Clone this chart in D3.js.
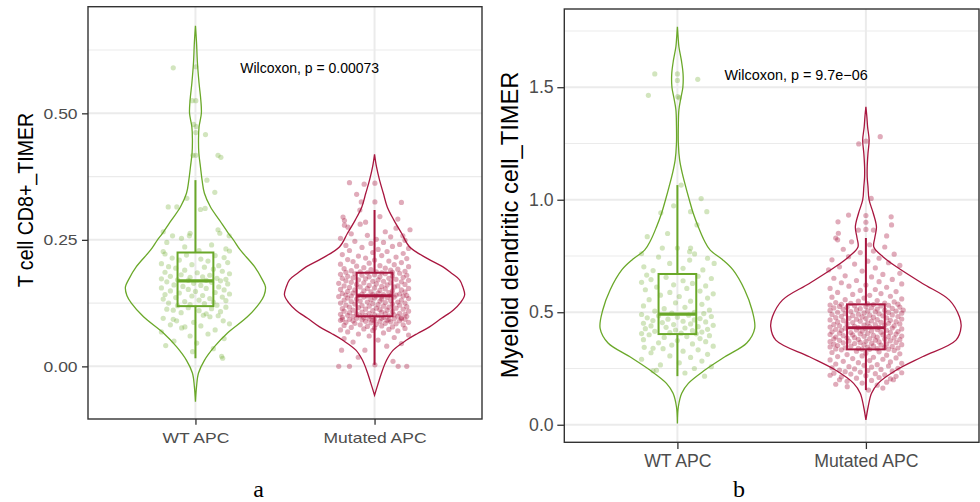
<!DOCTYPE html>
<html>
<head>
<meta charset="utf-8">
<script src="https://cdn.jsdelivr.net/npm/d3@7"></script>
<style>
  body { margin: 0; background: #fff; }
  svg { display: block; }
</style>
</head>
<body>
<svg id="fig" width="980" height="502"></svg>
<script>
// ---- shared ----
const groups = ["WT APC", "Mutated APC"];
const groupColors = ["#6aa829", "#a8163f"];

// ---- panel a: T cell CD8+ (TIMER) ----
const cd8Title = "T cell CD8+_TIMER";
const cd8Ticks = [0, 0.25, 0.5];
const cd8TickLabels = ["0.00", "0.25", "0.50"];
const cd8Minor = [0.125, 0.375, 0.625];
const cd8Test = "Wilcoxon, p = 0.00073";
// box stats: [lower whisker, Q1, median, Q3, upper whisker]
const cd8BoxWT  = [0.016, 0.119, 0.169, 0.225, 0.368];
const cd8BoxMut = [0.003, 0.099, 0.1395, 0.185, 0.309];
// violin outline: [value, half width in category steps]
const cd8ViolinWT = [[0.673,0],[0.64,0.006],[0.60,0.011],[0.56,0.02],[0.526,0.03],[0.50,0.033],[0.473,0.02],[0.45,0.017],[0.421,0.019],[0.394,0.028],[0.368,0.037],[0.342,0.05],[0.315,0.084],[0.289,0.134],[0.263,0.184],[0.25,0.212],[0.23,0.25],[0.197,0.33],[0.171,0.374],[0.157,0.391],[0.14,0.383],[0.125,0.358],[0.098,0.29],[0.066,0.179],[0.039,0.106],[0.012,0.05],[-0.013,0.017],[-0.04,0.006],[-0.07,0]];
const cd8ViolinMut = [[0.419,0],[0.394,0.011],[0.368,0.028],[0.342,0.049],[0.315,0.071],[0.289,0.108],[0.263,0.151],[0.236,0.196],[0.213,0.296],[0.197,0.38],[0.184,0.43],[0.171,0.475],[0.156,0.494],[0.141,0.503],[0.126,0.48],[0.111,0.439],[0.095,0.374],[0.078,0.307],[0.065,0.24],[0.052,0.179],[0.032,0.104],[0.012,0.067],[-0.013,0.039],[-0.033,0.021],[-0.057,0]];
// samples: [horizontal jitter in category steps, value]
const cd8PointsWT = [
[-0.124,0.590],[0.002,0.592],[-0.018,0.525],[0.002,0.525],[-0.010,0.478],[0.004,0.474],[0.002,0.462],[0.056,0.458],[-0.014,0.417],[0.002,0.417],
[0.126,0.417],[0.142,0.413],[0.064,0.368],[0.108,0.344],[-0.048,0.332],[-0.152,0.315],[-0.104,0.315],[0.028,0.310],[0.054,0.312],[-0.180,0.266],
[-0.030,0.263],[0.126,0.270],[0.136,0.263],[0.188,0.258],[-0.128,0.258],[-0.078,0.253],[-0.034,0.258],[-0.160,0.245],[0.090,0.240],[-0.060,0.236],
[0.170,0.232],[0.020,0.229],[-0.180,0.227],[0.190,0.228],
[-0.170,0.222],[-0.050,0.220],[0.110,0.219],[0.160,0.215],[-0.130,0.214],[0.030,0.212],[-0.090,0.210],[0.070,0.208],[0.180,0.205],[-0.190,0.203],
[-0.020,0.201],[0.130,0.199],[-0.150,0.197],[0.050,0.196],[-0.110,0.194],[0.100,0.192],[-0.060,0.190],[0.150,0.188],[-0.170,0.186],[0.010,0.185],
[0.190,0.183],[-0.080,0.181],[0.080,0.180],[-0.140,0.178],[0.040,0.177],[-0.030,0.176],[0.120,0.174],[-0.190,0.173],[0.170,0.172],[-0.100,0.171],
[0.060,0.170],[-0.040,0.170],[0.140,0.169],
[-0.160,0.167],[0.090,0.166],[-0.010,0.164],[0.180,0.163],[-0.120,0.161],[0.030,0.160],[-0.070,0.158],[0.130,0.157],[-0.190,0.155],[0.060,0.154],
[-0.040,0.152],[0.160,0.151],[-0.140,0.149],[0.000,0.148],[0.110,0.146],[-0.090,0.145],[0.190,0.143],[-0.170,0.142],[0.040,0.140],[-0.020,0.139],
[0.150,0.137],[-0.110,0.136],[0.080,0.134],[-0.180,0.133],[0.020,0.131],[0.170,0.130],[-0.060,0.128],[0.100,0.127],[-0.150,0.125],[0.050,0.124],
[-0.030,0.122],[0.120,0.121],[-0.100,0.120],
[-0.124,0.111],[0.170,0.117],[-0.040,0.116],[0.090,0.114],[-0.160,0.113],[0.020,0.110],[0.140,0.108],[-0.080,0.106],[0.060,0.104],[0.044,0.101],
[0.127,0.100],[0.081,0.098],[-0.180,0.095],[-0.124,0.093],[-0.105,0.090],[0.155,0.090],[-0.010,0.087],[0.190,0.084],[-0.140,0.082],[0.030,0.080],
[-0.059,0.078],[-0.077,0.076],[0.110,0.072],[-0.190,0.068],[0.070,0.064],[-0.030,0.060],[0.160,0.055],[-0.120,0.050],[0.007,0.046],[-0.166,0.041],
[0.100,0.035],[-0.016,0.029],[0.146,0.020],[0.152,0.016]
];
const cd8PointsMut = [
[-0.140,0.363],[-0.058,0.360],[0.002,0.362],[-0.100,0.340],[-0.074,0.325],[0.002,0.325],[0.150,0.324],[-0.082,0.309],[-0.176,0.295],[-0.168,0.288],
[-0.168,0.279],[-0.148,0.275],[0.130,0.291],[0.030,0.296],[0.120,0.273],[0.198,0.270],[0.158,0.258],[-0.050,0.285],[-0.080,0.281],[0.060,0.266],
[-0.130,0.262],[-0.040,0.259],[0.090,0.256],[-0.190,0.253],[0.010,0.251],[0.170,0.249],[-0.110,0.247],[0.050,0.245],[-0.020,0.243],[0.140,0.241],
[-0.160,0.239],[0.100,0.237],[-0.070,0.235],[0.190,0.233],[0.020,0.231],[-0.140,0.229],[0.070,0.227],[-0.010,0.225],[0.160,0.223],[-0.180,0.221],
[0.040,0.219],[-0.090,0.218],[0.120,0.216],[-0.050,0.214],[0.180,0.213],[-0.150,0.211],[0.000,0.210],[0.080,0.208],[-0.120,0.207],[0.150,0.205],
[-0.030,0.204],[-0.190,0.202],[0.110,0.201],[0.030,0.199],[-0.100,0.198],[0.190,0.197],[-0.060,0.195],[0.060,0.194],[-0.170,0.193],[0.130,0.192],
[-0.020,0.191],[0.090,0.190],[-0.130,0.189],[0.170,0.188],[0.010,0.187],[-0.080,0.187],[0.100,0.186],[-0.160,0.186],[0.040,0.185],[-0.040,0.185],
[0.140,0.184],[-0.110,0.183],[0.060,0.183],[-0.190,0.182],[0.000,0.181],[0.180,0.180],[-0.070,0.180],[0.100,0.179],[-0.150,0.178],[0.030,0.177],
[-0.030,0.177],[0.160,0.176],[-0.120,0.175],[0.080,0.174],[-0.180,0.174],[-0.050,0.173],[0.120,0.172],[0.020,0.171],[-0.090,0.171],[0.190,0.170],
[-0.160,0.169],[0.050,0.168],[-0.010,0.168],[0.150,0.167],[-0.130,0.166],[0.090,0.165],[-0.060,0.165],[-0.200,0.164],[0.010,0.163],[0.170,0.162],
[-0.100,0.162],[0.070,0.161],[-0.030,0.160],[0.130,0.159],[-0.170,0.159],[0.040,0.158],[-0.080,0.157],[0.110,0.157],[-0.140,0.156],[0.000,0.155],
[0.190,0.154],[-0.040,0.154],[0.060,0.153],[-0.190,0.152],[0.150,0.151],[-0.110,0.151],[0.030,0.150],[-0.060,0.149],[0.100,0.149],[-0.150,0.148],
[0.170,0.147],[-0.020,0.147],[0.080,0.146],[-0.120,0.145],[0.020,0.145],[-0.180,0.144],[0.140,0.143],[-0.070,0.143],[0.050,0.142],[-0.010,0.142],
[0.120,0.141],[-0.160,0.141],[0.090,0.140],[-0.090,0.140],[0.180,0.140],[-0.040,0.139],[0.010,0.139],[-0.130,0.139],[0.160,0.139],[0.040,0.138],
[-0.200,0.138],[0.110,0.137],[-0.060,0.137],[0.070,0.136],[-0.150,0.135],[0.000,0.135],[0.190,0.134],[-0.100,0.133],[0.040,0.133],[-0.020,0.132],
[0.150,0.131],[-0.170,0.131],[0.090,0.130],[-0.080,0.129],[0.030,0.129],[-0.130,0.128],[0.130,0.127],[-0.040,0.127],[0.060,0.126],[-0.190,0.125],
[0.170,0.125],[-0.010,0.124],[-0.110,0.123],[0.100,0.123],[0.020,0.122],[-0.160,0.121],[0.140,0.121],[-0.070,0.120],[0.050,0.119],[-0.030,0.119],
[0.180,0.118],[-0.140,0.117],[0.080,0.117],[-0.090,0.116],[0.010,0.115],[0.120,0.115],[-0.180,0.114],[-0.050,0.113],[0.160,0.113],[0.030,0.112],
[-0.120,0.111],[0.070,0.111],[-0.010,0.110],[0.190,0.109],[-0.170,0.109],[0.100,0.108],[-0.070,0.107],[0.040,0.107],[-0.140,0.106],[0.140,0.105],
[-0.030,0.105],[0.060,0.104],[-0.100,0.104],[0.170,0.103],[-0.190,0.103],[0.000,0.102],[0.110,0.102],[-0.050,0.101],[-0.150,0.101],[0.080,0.100],
[0.020,0.100],[-0.080,0.100],[0.130,0.099],[-0.120,0.099],[0.180,0.099],[-0.020,0.098],[0.050,0.097],[-0.180,0.097],[0.150,0.096],[-0.060,0.096],
[-0.200,0.000],[-0.140,0.000],[0.132,0.000],[0.180,0.000],[0.002,0.003],[-0.091,0.018],[0.103,0.010],[-0.184,0.032],[-0.054,0.032],[0.068,0.040],
[0.150,0.045],[-0.120,0.048],[0.020,0.052],[-0.170,0.055],[0.110,0.057],[-0.030,0.060],[0.190,0.062],[-0.090,0.064],[0.050,0.066],[-0.150,0.068],
[0.130,0.070],[-0.010,0.071],[-0.190,0.072],[0.080,0.073],[-0.060,0.074],[0.170,0.075],[0.000,0.076],[-0.130,0.077],[0.100,0.078],[-0.040,0.079],
[0.040,0.080],[-0.170,0.081],[0.160,0.082],[-0.080,0.082],[0.010,0.083],[0.120,0.084],[-0.110,0.085],[0.060,0.085],[-0.020,0.086],[0.190,0.087],
[-0.160,0.087],[0.090,0.088],[-0.050,0.089],[0.030,0.089],[-0.120,0.090],[0.140,0.090],[-0.190,0.091],[0.070,0.091],[-0.070,0.092],[0.000,0.092],
[0.170,0.093],[-0.140,0.093],[0.110,0.094],[-0.030,0.094],[0.040,0.095],[-0.100,0.095],[0.150,0.094],[-0.180,0.093],[0.080,0.092],[-0.010,0.091]
];

// ---- panel b: Myeloid dendritic cell (TIMER) ----
const mdcTitle = "Myeloid dendritic cell_TIMER";
const mdcTicks = [0, 0.5, 1.0, 1.5];
const mdcTickLabels = ["0.0", "0.5", "1.0", "1.5"];
const mdcMinor = [0.25, 0.75, 1.25, 1.75];
const mdcTest = "Wilcoxon, p = 9.7e\u221206";
const mdcBoxWT  = [0.216, 0.403, 0.492, 0.670, 1.065];
const mdcBoxMut = [0.154, 0.335, 0.431, 0.535, 0.830];
const mdcViolinWT = [[1.769,0],[1.72,0.004],[1.68,0.008],[1.62,0.021],[1.56,0.03],[1.50,0.029],[1.45,0.018],[1.40,0.008],[1.33,0.005],[1.25,0.005],[1.176,0.012],[1.117,0.026],[1.058,0.044],[1.0,0.063],[0.94,0.084],[0.879,0.111],[0.821,0.141],[0.776,0.174],[0.735,0.237],[0.688,0.295],[0.599,0.357],[0.51,0.396],[0.428,0.41],[0.363,0.368],[0.302,0.252],[0.243,0.146],[0.184,0.058],[0.14,0.023],[0.08,0.005],[0.006,0]];
const mdcViolinMut = [[1.413,0],[1.37,0.005],[1.324,0.009],[1.265,0.017],[1.206,0.011],[1.147,0.007],[1.10,0.007],[1.058,0.011],[0.999,0.017],[0.94,0.039],[0.879,0.056],[0.83,0.047],[0.79,0.042],[0.747,0.09],[0.702,0.162],[0.628,0.30],[0.554,0.443],[0.48,0.496],[0.436,0.505],[0.376,0.478],[0.302,0.30],[0.243,0.162],[0.184,0.065],[0.14,0.03],[0.08,0.012],[0.021,0]];
const mdcPointsWT = [
[-0.120,1.559],[0.000,1.559],[0.000,1.530],[0.108,1.535],[-0.154,1.464],[0.002,1.458],[0.010,1.453],[0.020,1.065],
[0.126,1.005],[-0.020,0.973],[0.070,0.947],[0.156,0.947],[-0.088,0.942],[0.104,0.888],[-0.160,0.836],[-0.052,0.850],[-0.080,0.785],[0.000,0.785],[0.070,0.785],
[-0.178,0.702],[-0.129,0.685],[-0.041,0.717],[0.065,0.769],[0.091,0.759],[0.065,0.732],[0.195,0.717],[0.135,0.688],[0.160,0.740],[-0.100,0.745],[0.030,0.695],[-0.190,0.760],
[-0.163,0.665],[0.110,0.660],[-0.060,0.655],[0.180,0.650],[-0.140,0.645],[0.030,0.640],[-0.190,0.633],[0.080,0.628],[-0.020,0.622],[0.150,0.617],
[-0.110,0.612],[0.050,0.606],[-0.170,0.600],[0.120,0.594],[-0.040,0.588],[0.190,0.582],[-0.090,0.576],[0.010,0.570],[0.160,0.563],[-0.150,0.556],
[0.070,0.549],[-0.010,0.542],[0.130,0.535],[-0.180,0.528],[0.040,0.522],[-0.070,0.516],[0.170,0.510],[-0.120,0.505],[0.090,0.500],[-0.030,0.496],[0.140,0.494],
[-0.190,0.490],[0.060,0.487],[-0.100,0.484],[0.180,0.481],[0.000,0.478],[-0.160,0.475],[0.120,0.472],[-0.050,0.469],[0.090,0.466],[-0.130,0.463],
[0.030,0.460],[0.150,0.457],[-0.080,0.454],[-0.180,0.451],[0.070,0.448],[-0.020,0.445],[0.190,0.442],[-0.140,0.439],[0.110,0.436],[-0.060,0.433],
[0.040,0.430],[-0.170,0.427],[0.160,0.424],[-0.010,0.421],[0.080,0.418],[-0.120,0.415],[0.130,0.412],[-0.040,0.409],[0.020,0.407],[-0.190,0.405],[0.100,0.404],
[-0.150,0.400],[0.170,0.396],[0.050,0.392],[-0.070,0.388],[0.120,0.383],[-0.180,0.378],[0.000,0.374],[0.150,0.369],[-0.100,0.364],[0.080,0.359],
[-0.030,0.354],[0.190,0.349],[-0.176,0.344],[-0.129,0.340],[-0.076,0.338],[0.110,0.333],[0.030,0.327],[-0.140,0.320],[0.160,0.313],[-0.040,0.306],
[0.070,0.299],[-0.190,0.291],[0.130,0.283],[0.010,0.275],[-0.090,0.266],[0.180,0.258],[0.090,0.250],[-0.129,0.240],[-0.111,0.242],[0.040,0.230],[0.144,0.216]
];
const mdcPointsMut = [
[0.076,1.280],[-0.038,1.248],[0.000,1.260],[0.028,1.006],[-0.092,0.932],[0.000,0.930],[-0.148,0.902],[0.134,0.924],[0.000,0.900],[0.136,0.888],
[-0.146,0.851],[-0.040,0.865],[0.000,0.868],[0.040,0.865],[0.110,0.839],
[-0.160,0.830],[-0.150,0.822],[-0.076,0.813],[0.020,0.800],[0.100,0.790],[-0.120,0.780],[0.040,0.772],[-0.030,0.765],[0.150,0.758],[-0.092,0.747],
[0.070,0.740],[-0.180,0.733],[0.010,0.727],[0.120,0.720],[-0.060,0.714],[0.180,0.708],[-0.140,0.702],[0.050,0.697],[-0.198,0.688],[-0.020,0.683],
[0.180,0.673],[0.090,0.668],[-0.110,0.662],[0.030,0.657],[-0.170,0.651],[0.140,0.646],[-0.050,0.641],[0.070,0.636],[-0.130,0.631],[0.190,0.626],
[0.000,0.621],[-0.090,0.616],[0.110,0.611],[-0.190,0.606],[0.050,0.601],[-0.030,0.597],[0.160,0.592],[-0.150,0.588],[0.080,0.583],[-0.070,0.579],
[0.020,0.575],[0.130,0.571],[-0.180,0.567],[-0.010,0.563],[0.190,0.559],[-0.110,0.556],[0.060,0.552],[-0.040,0.549],[0.150,0.546],[-0.160,0.543],
[0.100,0.541],[-0.080,0.539],[0.010,0.537],[0.170,0.536],[-0.130,0.535],
[0.040,0.534],[-0.190,0.532],[0.120,0.531],[-0.060,0.529],[0.080,0.528],[-0.140,0.526],[0.000,0.525],[0.180,0.523],[-0.100,0.522],[0.030,0.520],
[-0.170,0.519],[0.140,0.517],[-0.030,0.516],[0.060,0.514],[-0.120,0.513],[0.198,0.510],[-0.050,0.511],[0.100,0.509],[-0.190,0.508],[0.010,0.506],
[0.160,0.505],[-0.080,0.503],[0.050,0.502],[-0.150,0.500],[0.120,0.499],[-0.010,0.497],[0.190,0.496],[-0.110,0.494],[0.070,0.493],[-0.040,0.491],
[-0.180,0.490],[0.140,0.488],[0.020,0.487],[-0.070,0.485],[0.090,0.484],[-0.130,0.482],[0.170,0.481],[-0.020,0.479],[0.040,0.478],[-0.160,0.476],
[0.110,0.475],[-0.090,0.473],[0.000,0.472],[0.190,0.470],[-0.050,0.469],[0.060,0.467],[-0.190,0.466],[0.130,0.464],[-0.120,0.463],[0.030,0.461],
[-0.030,0.460],[0.160,0.458],[-0.150,0.457],[0.080,0.455],[-0.070,0.454],[0.010,0.452],[0.120,0.451],[-0.100,0.449],[0.180,0.448],[-0.170,0.446],
[0.050,0.445],[-0.010,0.443],[0.100,0.442],[-0.140,0.440],[0.150,0.439],[-0.060,0.437],[0.020,0.436],[-0.190,0.434],[0.070,0.433],[-0.040,0.432],
[0.140,0.430],[-0.110,0.429],[0.000,0.427],[0.190,0.426],[-0.160,0.424],[0.060,0.423],[-0.050,0.421],[0.110,0.420],[-0.130,0.419],[0.030,0.417],
[-0.020,0.416],[0.170,0.414],[-0.180,0.413],[0.080,0.411],[-0.080,0.410],[0.130,0.409],[-0.140,0.407],[0.010,0.406],[-0.030,0.404],[0.160,0.403],
[-0.190,0.401],[0.090,0.400],[-0.070,0.399],[0.040,0.397],[-0.120,0.396],[0.190,0.394],[-0.010,0.393],[0.120,0.392],[-0.160,0.390],[0.060,0.389],
[-0.060,0.387],[0.150,0.386],[-0.100,0.385],[0.020,0.383],[-0.170,0.382],[0.100,0.381],[-0.040,0.379],[0.180,0.378],[0.050,0.376],[-0.140,0.375],
[0.130,0.373],[-0.090,0.372],[0.000,0.371],[-0.190,0.369],[0.070,0.368],[-0.030,0.366],[0.160,0.365],[-0.120,0.364],[0.030,0.362],[-0.060,0.361],
[0.110,0.359],[-0.170,0.358],[0.190,0.356],[-0.010,0.355],[0.080,0.354],[-0.150,0.352],[0.040,0.351],[-0.080,0.349],[0.140,0.348],[-0.190,0.346],
[0.010,0.345],[0.100,0.343],[-0.110,0.342],[0.170,0.341],[-0.040,0.339],[0.060,0.338],[-0.160,0.337],[0.120,0.336],[-0.020,0.336],[0.020,0.335],
[-0.130,0.333],[0.150,0.330],[-0.050,0.327],[0.070,0.324],[-0.180,0.321],[0.000,0.318],[0.180,0.315],[-0.100,0.312],[0.110,0.309],[-0.020,0.306],
[-0.150,0.303],[0.040,0.300],[0.160,0.297],[-0.070,0.294],[0.090,0.291],[-0.190,0.288],[0.020,0.285],[-0.120,0.282],[0.130,0.279],[-0.040,0.276],
[0.190,0.273],[-0.160,0.270],[0.060,0.267],[-0.010,0.264],[0.120,0.261],[-0.090,0.258],[0.030,0.256],[-0.180,0.253],[0.170,0.251],[-0.060,0.248],
[0.080,0.246],[-0.140,0.243],[0.010,0.241],[0.140,0.238],[-0.110,0.236],[-0.030,0.234],[0.190,0.231],[-0.170,0.229],[0.050,0.227],[-0.080,0.225],
[0.100,0.222],[-0.190,0.220],[0.000,0.218],[0.160,0.215],[-0.130,0.213],[0.070,0.210],[-0.050,0.207],[0.130,0.204],[0.146,0.200],[-0.140,0.200],
[0.030,0.197],[-0.100,0.193],[0.110,0.189],[-0.020,0.185],[-0.160,0.180],[0.060,0.176],[-0.099,0.169],[0.090,0.163],[0.014,0.154]
];

// ---- layout of the two panels ----
const panels = [
  {
    caption: "a", captionX: 258.7,
    left: 88, right: 482, top: 6.7, bottom: 419, domain: [-0.104, 0.7107],
    ticks: cd8Ticks, tickLabels: cd8TickLabels, minor: cd8Minor, title: cd8Title,
    boxes: [cd8BoxWT, cd8BoxMut], violins: [cd8ViolinWT, cd8ViolinMut], points: [cd8PointsWT, cd8PointsMut],
    test: cd8Test, testX: 1.25, testY: 0.589, testSize: 14,
    tickSize: 17.5 / 1.14, textStretch: 1.14, titleSize: 19.6, titleStretch: 1.17,
    titleX: 33.3, titleY: 200, yTickLen: 6, yTickPad: 4.4, xTickLen: 5.7, xTickPad: 7
  },
  {
    caption: "b", captionX: 739,
    left: 564.3, right: 979, top: 9, bottom: 442.3, domain: [-0.078, 1.8476],
    ticks: mdcTicks, tickLabels: mdcTickLabels, minor: mdcMinor, title: mdcTitle,
    boxes: [mdcBoxWT, mdcBoxMut], violins: [mdcViolinWT, mdcViolinMut], points: [mdcPointsWT, mdcPointsMut],
    test: mdcTest, testX: 1.25, testY: 1.554, testSize: 14.4,
    tickSize: 17.7, textStretch: 1, titleSize: 23.7, titleStretch: 1,
    titleX: 518.3, titleY: 225, yTickLen: 7, yTickPad: 3.6, xTickLen: 6.7, xTickPad: 5.4
  }
];

const svg = d3.select("#fig");
svg.append("rect").attr("width", 980).attr("height", 502).attr("fill", "#fff");

function drawPanel(p) {
  const g = svg.append("g");
  const x = d3.scalePoint().domain(groups).range([p.left, p.right]).padding(0.6);
  const step = x.step();
  const y = d3.scaleLinear().domain(p.domain).range([p.bottom, p.top]);

  // grid
  g.append("g").selectAll("line").data(p.minor.filter(v => v >= p.domain[0] && v <= p.domain[1])).join("line")
    .attr("x1", p.left).attr("x2", p.right).attr("y1", d => y(d)).attr("y2", d => y(d))
    .attr("stroke", "#ebebeb").attr("stroke-width", 1.1);
  g.append("g").selectAll("line").data(p.ticks).join("line")
    .attr("x1", p.left).attr("x2", p.right).attr("y1", d => y(d)).attr("y2", d => y(d))
    .attr("stroke", "#ebebeb").attr("stroke-width", 2);
  g.append("g").selectAll("line").data(groups).join("line")
    .attr("x1", d => x(d)).attr("x2", d => x(d)).attr("y1", p.top).attr("y2", p.bottom)
    .attr("stroke", "#ebebeb").attr("stroke-width", 2);

  // jittered samples
  p.points.forEach((pts, i) => {
    g.append("g").selectAll("circle").data(pts).join("circle")
      .attr("cx", d => x(groups[i]) + d[0] * step)
      .attr("cy", d => y(d[1]))
      .attr("r", 2.6)
      .attr("fill", groupColors[i])
      .attr("fill-opacity", i === 0 ? 0.3 : 0.36);
  });

  // violins
  p.violins.forEach((prof, i) => {
    const cx = x(groups[i]);
    const area = d3.area()
      .curve(d3.curveCatmullRom.alpha(0.5))
      .y(d => y(d[0]))
      .x0(d => cx - d[1] * step)
      .x1(d => cx + d[1] * step);
    g.append("path").datum(prof).attr("d", area)
      .attr("fill", "none").attr("stroke", groupColors[i]).attr("stroke-width", 1.3);
  });

  // box plots
  const boxHalf = 0.1 * step;
  p.boxes.forEach((b, i) => {
    const cx = x(groups[i]);
    const c = groupColors[i];
    const bg = g.append("g").attr("stroke", c).attr("fill", "none");
    bg.append("line").attr("x1", cx).attr("x2", cx).attr("y1", y(b[0])).attr("y2", y(b[1])).attr("stroke-width", 2);
    bg.append("line").attr("x1", cx).attr("x2", cx).attr("y1", y(b[3])).attr("y2", y(b[4])).attr("stroke-width", 2);
    bg.append("rect").attr("x", cx - boxHalf).attr("width", 2 * boxHalf)
      .attr("y", y(b[3])).attr("height", y(b[1]) - y(b[3])).attr("stroke-width", 2);
    bg.append("line").attr("x1", cx - boxHalf).attr("x2", cx + boxHalf)
      .attr("y1", y(b[2])).attr("y2", y(b[2])).attr("stroke-width", 3.2);
  });

  // test annotation
  g.append("text").attr("x", x.range()[0] + (p.testX - 0.4) * step).attr("y", y(p.testY))
    .attr("dy", "0.35em").attr("font-family", "Liberation Sans, Arial, sans-serif")
    .attr("font-size", p.testSize).attr("fill", "#000").text(p.test);

  // axes
  const yAxis = g.append("g").attr("transform", `translate(${p.left},0)`)
    .call(d3.axisLeft(y).tickValues(p.ticks).tickFormat((d, i) => p.tickLabels[i])
      .tickSize(p.yTickLen).tickPadding(p.yTickPad));
  const xAxis = g.append("g").attr("transform", `translate(0,${p.bottom})`)
    .call(d3.axisBottom(x).tickSize(p.xTickLen).tickPadding(p.xTickPad));
  [yAxis, xAxis].forEach(ax => {
    ax.select(".domain").remove();
    ax.selectAll(".tick line").attr("stroke", "#333").attr("stroke-width", 1.3);
    ax.selectAll(".tick text").attr("fill", "#4d4d4d")
      .attr("font-family", "Liberation Sans, Arial, sans-serif").attr("font-size", p.tickSize);
  });
  yAxis.selectAll(".tick text").each(function () {
    const t = d3.select(this);
    const tx = +t.attr("x");
    t.attr("x", 0).attr("transform", `translate(${tx},0) scale(${p.textStretch},1)`);
  });
  xAxis.selectAll(".tick text").attr("transform", `scale(${p.textStretch},1)`);

  // axis title
  g.append("text")
    .attr("transform", `translate(${p.titleX},${p.titleY}) scale(${p.titleStretch},1) rotate(-90)`)
    .attr("text-anchor", "middle").attr("font-family", "Liberation Sans, Arial, sans-serif")
    .attr("font-size", p.titleSize).attr("fill", "#000").text(p.title);

  // panel border
  g.append("rect").attr("x", p.left).attr("y", p.top)
    .attr("width", p.right - p.left).attr("height", p.bottom - p.top)
    .attr("fill", "none").attr("stroke", "#333").attr("stroke-width", 1.4);

  // caption under the panel
  svg.append("text").attr("x", p.captionX).attr("y", 497).attr("text-anchor", "middle")
    .attr("font-family", "Liberation Serif, Times New Roman, serif").attr("font-size", 24)
    .attr("fill", "#000").text(p.caption);
}

panels.forEach(drawPanel);
</script>
</body>
</html>
